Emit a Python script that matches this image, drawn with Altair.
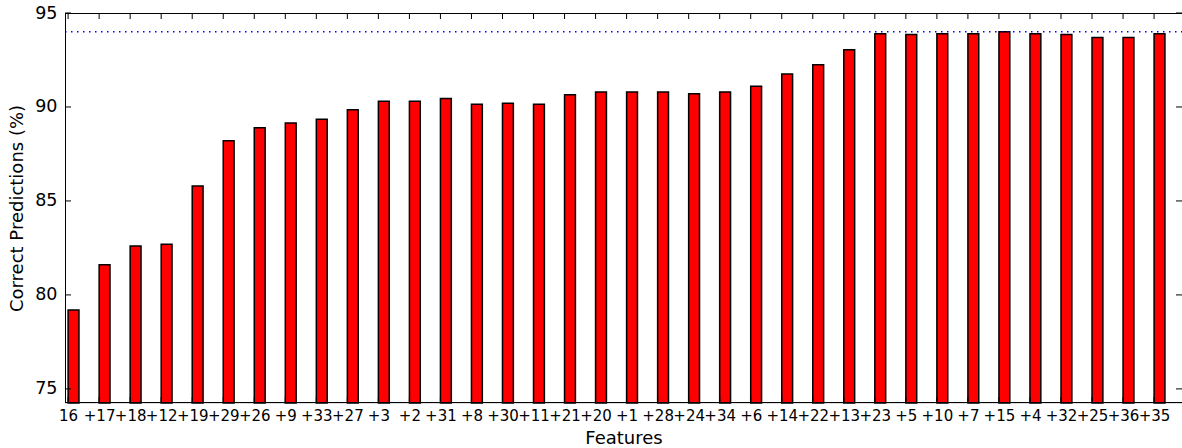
import altair as alt
import pandas as pd

# Feature added at each step (forward selection order)
features = ["16", "+17", "+18", "+12", "+19", "+29", "+26", "+9", "+33", "+27", "+3",
            "+2", "+31", "+8", "+30", "+11", "+21", "+20", "+1", "+28", "+24", "+34",
            "+6", "+14", "+22", "+13", "+23", "+5", "+10", "+7", "+15", "+4", "+32",
            "+25", "+36", "+35"]

# Share of correct predictions (%) after adding each feature
accuracy = [79.2, 81.6, 82.6, 82.7, 85.8, 88.2, 88.9, 89.15, 89.35, 89.85, 90.3,
            90.3, 90.45, 90.15, 90.2, 90.15, 90.65, 90.8, 90.8, 90.8, 90.7, 90.8,
            91.1, 91.75, 92.25, 93.05, 93.9, 93.85, 93.9, 93.9, 94.0, 93.9, 93.85,
            93.7, 93.7, 93.9]

best_level = 94.0
y_ticks = [75, 80, 85, 90, 95]

Y_MIN, Y_MAX = 74.25, 95.0
X_MIN, X_MAX = -0.1, 35.9
BAR_W = 0.35
W, H = 1117, 390
TICK = 6

df = pd.DataFrame({
    "i": list(range(len(features))),
    "label": features,
    "acc": accuracy,
})
df["i2"] = df["i"] + BAR_W
df["base"] = Y_MIN

label_expr = "[" + ",".join(f"'{s}'" for s in features) + "][datum.value]"

xscale = alt.Scale(domain=[X_MIN, X_MAX], nice=False, zero=False)
yscale = alt.Scale(domain=[Y_MIN, Y_MAX], nice=False, zero=False)

# one axis definition per direction, shared by every layer so they merge cleanly
x_axis = alt.Axis(
    values=list(range(len(features))), labelExpr=label_expr, title="Features",
    ticks=False, tickSize=0, domain=False, grid=False,
    labelOverlap=False, labelFlush=False, labelBound=False,
    labelFontSize=15, labelPadding=5, labelColor="#000000",
    titleFontSize=18, titleFontWeight="normal", titleColor="#000000",
    titleX=W / 2, titleY=40, titleBaseline="alphabetic",
)
y_axis = alt.Axis(
    values=y_ticks, title="Correct Predictions (%)",
    ticks=False, tickSize=0, domain=False, grid=False,
    labelFlush=False, labelOverlap=False,
    labelFontSize=17.5, labelPadding=8, labelColor="#000000",
    titleFontSize=18, titleFontWeight="normal", titleColor="#000000",
    titleX=-43, titleY=H / 2, titleBaseline="alphabetic", titleAngle=-90,
)

bars = alt.Chart(df).mark_rect(
    fill="#ff0000", stroke="#000000", strokeWidth=1.5
).encode(
    x=alt.X("i:Q", scale=xscale, axis=x_axis),
    x2="i2:Q",
    y=alt.Y("acc:Q", scale=yscale, axis=y_axis),
    y2="base:Q",
)

best = alt.Chart(pd.DataFrame({"v": [best_level]})).mark_rule(
    color="#0000ff", strokeWidth=1.5, strokeDash=[1.5, 4.5]
).encode(
    y=alt.Y("v:Q", scale=yscale, axis=y_axis),
    x=alt.value(0), x2=alt.value(W),
)

one = pd.DataFrame({"k": [0]})
spine_top = alt.Chart(one).mark_rule(color="#000000", strokeWidth=1).encode(
    x=alt.value(0), x2=alt.value(W), y=alt.value(0.5))
spine_bottom = alt.Chart(one).mark_rule(color="#000000", strokeWidth=1).encode(
    x=alt.value(0), x2=alt.value(W), y=alt.value(H - 0.5))
spine_left = alt.Chart(one).mark_rule(color="#000000", strokeWidth=1).encode(
    y=alt.value(0), y2=alt.value(H), x=alt.value(0.5))

# inward ticks on all four sides
xt_top = alt.Chart(df).mark_rule(color="#000000", strokeWidth=1).encode(
    x=alt.X("i:Q", scale=xscale, axis=x_axis), y=alt.value(0), y2=alt.value(TICK))
xt_bottom = alt.Chart(df).mark_rule(color="#000000", strokeWidth=1).encode(
    x=alt.X("i:Q", scale=xscale, axis=x_axis), y=alt.value(H - TICK), y2=alt.value(H))
yt_df = pd.DataFrame({"t": y_ticks})
yt_left = alt.Chart(yt_df).mark_rule(color="#000000", strokeWidth=1).encode(
    y=alt.Y("t:Q", scale=yscale, axis=y_axis), x=alt.value(0), x2=alt.value(TICK))
yt_right = alt.Chart(yt_df).mark_rule(color="#000000", strokeWidth=1).encode(
    y=alt.Y("t:Q", scale=yscale, axis=y_axis), x=alt.value(W - TICK), x2=alt.value(W))

chart = alt.layer(
    bars, best, spine_top, spine_bottom, spine_left,
    xt_top, xt_bottom, yt_left, yt_right,
).properties(
    width=W, height=H,
    padding={"left": 65, "top": 13, "right": 0, "bottom": 45},
    autosize=alt.AutoSizeParams(type="none"),
    background="#ffffff",
).configure_view(
    stroke=None,
).configure(
    font="DejaVu Sans",
)

chart.save("out.html", embed_options={"renderer": "svg", "actions": False})
